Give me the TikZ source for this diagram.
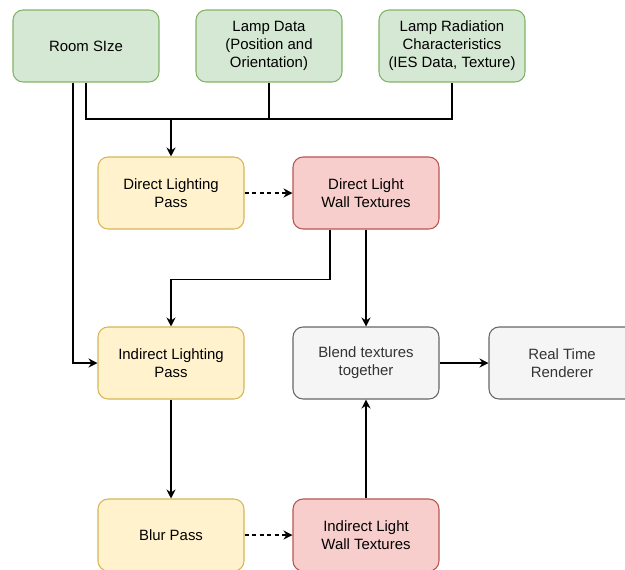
\documentclass[tikz,border=0pt]{standalone}
\usepackage{fontspec}
\setmainfont{Liberation Sans}
\usetikzlibrary{arrows.meta}

\definecolor{greenfill}{HTML}{D5E8D4}
\definecolor{greenline}{HTML}{82B366}
\definecolor{yellowfill}{HTML}{FFF2CC}
\definecolor{yellowline}{HTML}{D6B656}
\definecolor{redfill}{HTML}{F8CECC}
\definecolor{redline}{HTML}{B85450}
\definecolor{grayfill}{HTML}{F5F5F5}
\definecolor{grayline}{HTML}{666666}
\definecolor{graytext}{HTML}{333333}

\tikzset{
    box/.style={rectangle, rounded corners=0.2cm, minimum width=2.92cm, minimum height=1.44cm,
        align=center, line width=0.6pt, font=\fontsize{8.5}{10.2}\selectfont},
    inputbox/.style={box, fill=greenfill, draw=greenline},
    passbox/.style={box, fill=yellowfill, draw=yellowline},
    texbox/.style={box, fill=redfill, draw=redline},
    outbox/.style={box, fill=grayfill, draw=grayline, text=graytext},
    link/.style={line width=0.6pt, -{Stealth[length=0.18cm, width=0.18cm, inset=0.06cm]}},
    dashlink/.style={link, dash pattern=on 0.08cm off 0.07cm}
}

\begin{document}
\begin{tikzpicture}[x=0.02cm, y=-0.02cm]
    \clip (0,0) rectangle (625,569);

    % inputs
    \node[inputbox] (room) at (86,46) {Room SIze};
    \node[inputbox] (lamp) at (269,46) {Lamp Data\\(Position and\\Orientation)};
    \node[inputbox] (lamprad) at (452,46) {Lamp Radiation\\Characteristics\\(IES Data, Texture)};

    % passes
    \node[passbox] (direct) at (171,193) {Direct Lighting\\Pass};
    \node[texbox] (directtex) at (366,193) {Direct Light\\Wall Textures};
    \node[passbox] (indirect) at (171,363) {Indirect Lighting\\Pass};
    \node[outbox] (blend) at (366,363) {Blend textures\\together};
    \node[outbox] (renderer) at (562,363) {Real Time\\Renderer};
    \node[passbox] (blur) at (171,535) {Blur Pass};
    \node[texbox] (indirecttex) at (366,535) {Indirect Light\\Wall Textures};

    \coordinate (join) at (171,119);

    % input lines
    \draw[line width=0.6pt] (room.south) -- (room.south |- join) -- (lamprad.south |- join) -- (lamprad.south);
    \draw[line width=0.6pt] (lamp.south) -- (lamp.south |- join);
    \draw[link, line width=1pt] (join) -- (direct.north);
    \draw[link] ([xshift=-0.26cm]room.south) |- (indirect.west);

    \draw[dashlink] (direct) -- (directtex);
    \draw[link] ([xshift=-0.72cm]directtex.south) -- ++(0,50) -| (indirect.north);
    \draw[link] (directtex) -- (blend);
    \draw[link] (indirect) -- (blur);
    \draw[dashlink] (blur) -- (indirecttex);
    \draw[link] (indirecttex) -- (blend);
    \draw[link] (blend) -- (renderer);
\end{tikzpicture}
\end{document}
